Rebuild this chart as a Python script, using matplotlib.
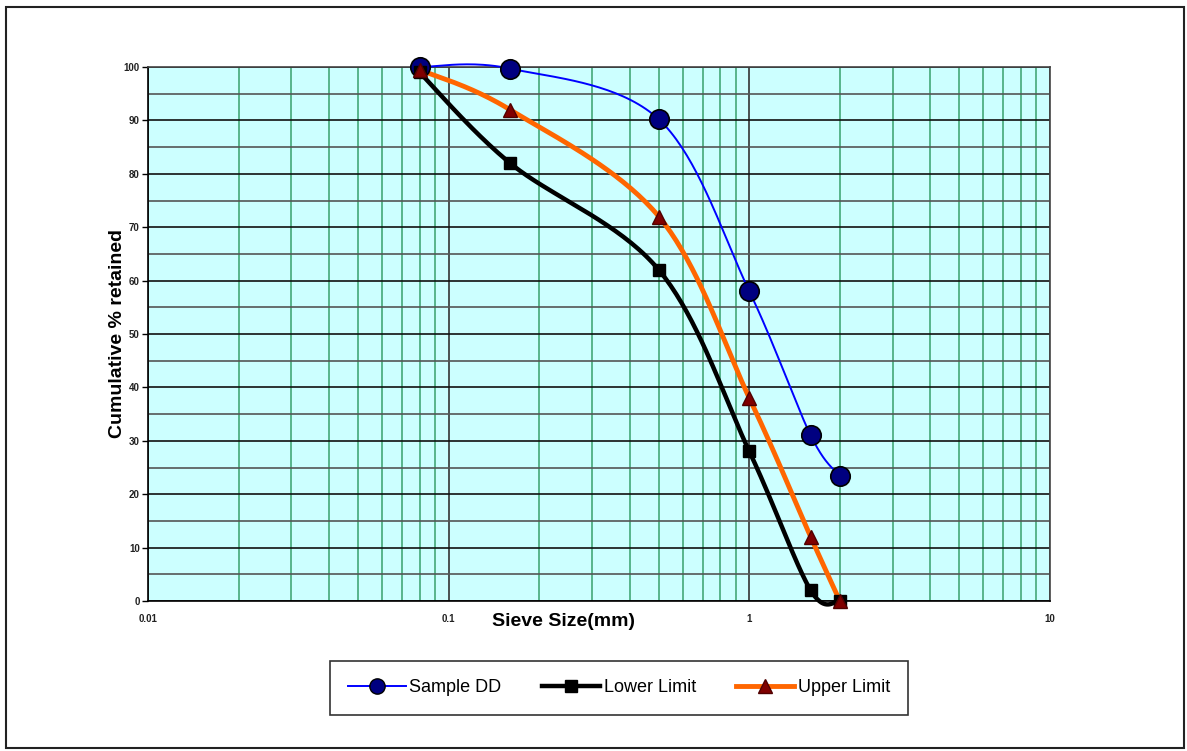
import matplotlib
matplotlib.use('Agg')
import matplotlib.pyplot as plt
from matplotlib.patches import Rectangle
from matplotlib.ticker import FixedLocator, NullFormatter
import numpy as np

plt.rcParams['font.family'] = ['Liberation Sans', 'DejaVu Sans']

sieve = [0.08, 0.16, 0.5, 1.0, 1.6, 2.0]
sample_dd = [100, 99.7, 90.2, 58, 31, 23.4]
lower_limit = [99, 82, 62, 28, 2, 0]
upper_limit = [99.5, 92, 72, 38, 12, 0]

x_ticks = [0.01, 0.1, 1, 10]
x_tick_labels = ['0.01', '0.1', '1', '10']
y_ticks = list(range(0, 101, 10))


def smooth(xs, ys, n=40):
    # Excel style smoothing: Catmull-Rom in log-x space
    lx = np.log10(xs)
    p = np.column_stack([lx, ys])
    p = np.vstack([p[0], p, p[-1]])
    out = []
    for i in range(1, len(p) - 2):
        p0, p1, p2, p3 = p[i - 1], p[i], p[i + 1], p[i + 2]
        c1 = p1 + (p2 - p0) / 6
        c2 = p2 - (p3 - p1) / 6
        t = np.linspace(0, 1, n)[:, None]
        seg = ((1 - t) ** 3) * p1 + 3 * ((1 - t) ** 2) * t * c1 + 3 * (1 - t) * t ** 2 * c2 + t ** 3 * p2
        out.append(seg if i == 1 else seg[1:])
    out = np.vstack(out)
    return 10 ** out[:, 0], out[:, 1]


fig = plt.figure(figsize=(11.87, 7.51), dpi=100)
fig.patches.append(Rectangle((6 / 1187, 3 / 751), 1178 / 1187, 741 / 751,
                             transform=fig.transFigure, fill=False,
                             edgecolor='#222222', lw=1.5))

ax = fig.add_axes([148 / 1187, 1 - 601 / 751, 902 / 1187, 534 / 751])
ax.set_facecolor('#CCFFFF')
ax.set_xscale('log')
ax.set_xlim(0.01, 10)
ax.set_ylim(0, 100)

# grid
for dec in [0.01, 0.1, 1]:
    for m in range(2, 10):
        ax.axvline(dec * m, color='#44A878', lw=1.2, zorder=1)
for v in x_ticks:
    ax.axvline(v, color='#333333', lw=1.2, zorder=1)
for yv in range(5, 100, 10):
    ax.axhline(yv, color='#555555', lw=1.2, zorder=1)
for yv in y_ticks:
    ax.axhline(yv, color='#111111', lw=1.2, zorder=1)

sx, sy = smooth(sieve, sample_dd)
ax.plot(sx, sy, color='#0000FF', lw=1.4, zorder=3, clip_on=False)
ax.plot(sieve, sample_dd, 'o', color='#000080', mec='black', mew=1.2, ms=14,
        zorder=6, clip_on=False)

lx, ly = smooth(sieve, lower_limit)
ax.plot(lx, ly, color='black', lw=3.2, zorder=4, clip_on=False)
ax.plot(sieve, lower_limit, 's', color='black', ms=9, zorder=6, clip_on=False)

ux, uy = smooth(sieve, upper_limit)
ax.plot(ux, uy, color='#FF6600', lw=3.5, zorder=5, clip_on=False)
ax.plot(sieve, upper_limit, '^', color='#800000', mec='#500000', ms=10,
        zorder=7, clip_on=False)

ax.xaxis.set_major_locator(FixedLocator(x_ticks))
ax.set_xticklabels(x_tick_labels)
ax.xaxis.set_minor_formatter(NullFormatter())
ax.tick_params(axis='x', which='both', length=0, pad=9, labelsize=7)
ax.set_yticks(y_ticks)
ax.tick_params(axis='y', length=4, width=1, pad=2, labelsize=7)
for lab in ax.get_xticklabels() + ax.get_yticklabels():
    lab.set_fontweight('bold')
    lab.set_color('#222222')
for s in ax.spines.values():
    s.set_color('#444444')
    s.set_linewidth(1.2)
ax.spines['left'].set_color('black')
ax.spines['bottom'].set_color('black')

fig.text(117 / 1187, 1 - 334 / 751, 'Cumulative % retained', fontsize=14,
         fontweight='bold', rotation=90, ha='center', va='center')
fig.text(563 / 1187, 1 - 621 / 751, 'Sieve Size(mm)', fontsize=14, fontweight='bold',
         ha='center', va='center')

h1, = ax.plot([], [], '-o', color='#0000FF', mfc='#000080', mec='black', ms=11, lw=1.4)
h2, = ax.plot([], [], '-s', color='black', ms=9, lw=3.2)
h3, = ax.plot([], [], '-^', color='#FF6600', mfc='#800000', mec='#500000', ms=10, lw=3.5)
leg = fig.legend([h1, h2, h3], ['Sample DD', 'Lower Limit', 'Upper Limit'],
                 loc='center', ncol=3, mode='expand',
                 bbox_to_anchor=(330 / 1187, 1 - 720 / 751, 578 / 1187, 64 / 751),
                 fancybox=False, edgecolor='black', fontsize=13,
                 handlelength=3.2, handletextpad=0.2, borderpad=1.0,
                 borderaxespad=0)
leg.get_frame().set_linewidth(1.2)

fig.savefig('out.png', dpi=100)
